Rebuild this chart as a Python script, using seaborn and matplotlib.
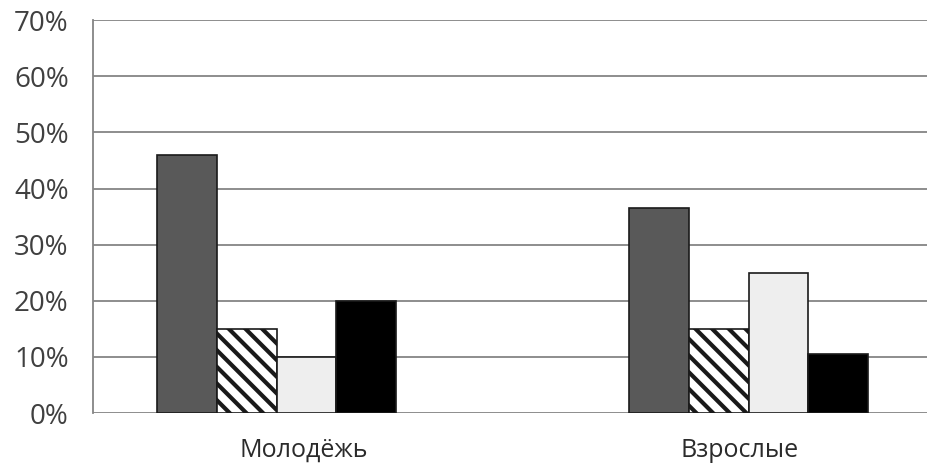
import matplotlib
matplotlib.use("Agg")
import matplotlib.pyplot as plt
from matplotlib.transforms import ScaledTranslation
from matplotlib.ticker import FuncFormatter, MultipleLocator
import pandas as pd
import seaborn as sns

# данные с картинки (в процентах)
groups = ["Молодёжь", "Взрослые"]
series = ["Ряд 1", "Ряд 2", "Ряд 3", "Ряд 4"]
youth = [46, 15, 10, 20]
adults = [36.5, 15, 25, 10.5]
colors = ["#595959", "#ffffff", "#eeeeee", "#000000"]

rows = []
for g, vals in zip(groups, [youth, adults]):
    for s, v in zip(series, vals):
        rows.append({"group": g, "series": s, "value": v})
df = pd.DataFrame(rows)

sns.set_style("white")
plt.rcParams["font.family"] = ["Open Sans", "DejaVu Sans"]
plt.rcParams["hatch.linewidth"] = 3.0
plt.rcParams["hatch.color"] = "#1a1a1a"

fig = plt.figure(figsize=(9.27, 4.65), dpi=100)
ax = fig.add_axes([0.1003, 0.1118, 0.8997, 0.8452])

sns.barplot(data=df, x="group", y="value", hue="series", order=groups,
            hue_order=series, palette=colors, width=0.506, gap=0,
            edgecolor="#1a1a1a", linewidth=1.2, saturation=1,
            legend=False, ax=ax, zorder=3)

for bar in ax.containers[1]:
    bar.set_hatch("\\\\")

ax.set_ylim(0, 70.05)
ax.set_xlim(-0.389, 1.378)
ax.yaxis.set_major_locator(MultipleLocator(10))
ax.yaxis.set_major_formatter(FuncFormatter(lambda v, p: f"{v:.0f}%"))
ax.grid(axis="y", color="#858585", linewidth=1.3, zorder=0)
ax.set_axisbelow(True)
ax.set_xlabel("")
ax.set_ylabel("")

for side in ["top", "right", "bottom"]:
    ax.spines[side].set_visible(False)
ax.spines["left"].set_color("#858585")
ax.spines["left"].set_linewidth(1.3)

ax.tick_params(axis="y", length=7.5, width=1.3, color="#858585",
               labelsize=20, labelcolor="#404040", pad=10)
ax.tick_params(axis="x", length=0, labelsize=18, labelcolor="#2b2b2b", pad=18)

# подписи категорий в оригинале немного смещены
for lbl, dx in zip(ax.get_xticklabels(), [27.5, -9.5]):
    lbl.set_transform(lbl.get_transform() + ScaledTranslation(dx / 100, 0, fig.dpi_scale_trans))

fig.savefig("out.png", dpi=100)
